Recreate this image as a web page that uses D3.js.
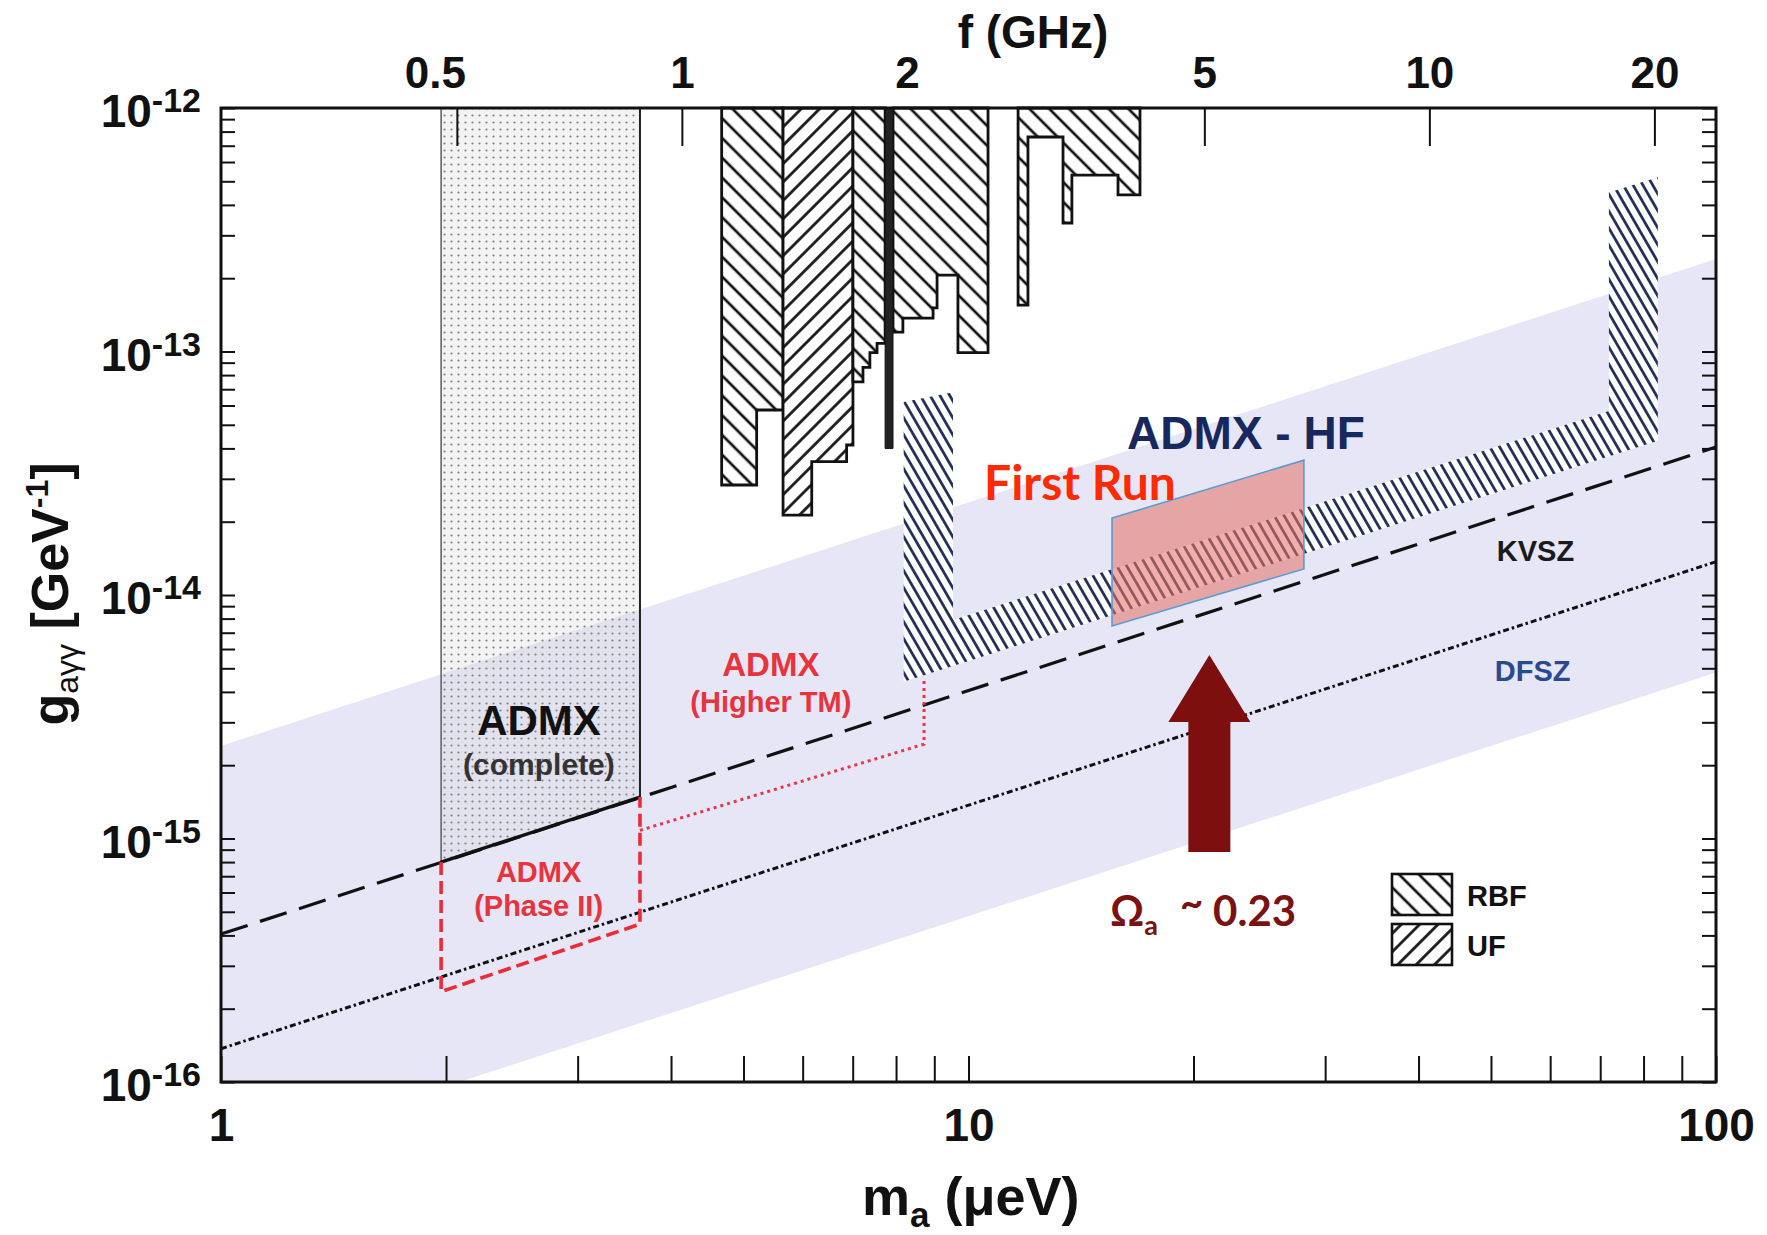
<!DOCTYPE html>
<html>
<head>
<meta charset="utf-8">
<script src="https://cdn.jsdelivr.net/npm/d3@7"></script>
<style>
  body { margin: 0; background: #fff; }
  text { font-family: "Liberation Sans", Arial, sans-serif; font-weight: bold; }
</style>
</head>
<body>
<script>
// axion-photon coupling vs axion mass, ADMX / ADMX-HF reach

// model lines, [m (ueV), g (1/GeV)]
var ksvzLine = [[1, 4.05e-16], [100, 4.05e-14]];
var dfszLine = [[1, 1.37e-16], [100, 1.37e-14]];
var bandUpper = [[1, 2.4e-15], [100, 2.4e-13]];
var bandLower = [[1, 4.8e-17], [100, 4.8e-15]];

// old exclusions, bins are [m_lo, m_hi, g_limit]
var rbfA = [[4.675, 5.207, 2.83e-14], [5.207, 5.648, 5.75e-14]];
var ufB = [[5.648, 6.17, 2.13e-14], [6.17, 6.87, 3.53e-14], [6.87, 7.005, 4.13e-14]];
var rbfC = [[7.005, 7.225, 7.5e-14], [7.225, 7.38, 8.6e-14], [7.38, 7.545, 9.9e-14], [7.545, 7.735, 1.08e-13]];
var darkBar = [[7.735, 7.925, 4.0e-14]];
var rbfD = [[7.925, 8.17, 1.2e-13], [8.17, 8.966, 1.37e-13], [8.966, 9.077, 1.51e-13], [9.077, 9.68, 2.06e-13], [9.68, 10.62, 9.9e-14]];
var rbfE = [[11.65, 12.01, 1.55e-13], [12.01, 13.38, 7.6e-13], [13.38, 13.75, 3.37e-13], [13.75, 15.85, 5.3e-13], [15.85, 16.96, 4.4e-13]];

// ADMX
var admxComplete = [[1.97, 8.0e-16], [3.635, 1.48e-15]];
var admxPhase2 = [[1.97, 8.0e-16], [1.97, 2.35e-16], [3.635, 4.45e-16], [3.635, 1.48e-15]];
var admxHigherTM = [[3.635, 1.08e-15], [8.72, 2.44e-15], [8.72, 4.5e-15]];
var admxHF = [[8.19, 6.2e-14], [9.535, 6.8e-14], [9.535, 7.9e-15], [71.9, 5.7e-14], [71.9, 4.5e-13],
              [83.6, 5.2e-13], [83.6, 4.3e-14], [8.19, 4.4e-15]];
var firstRun = [[15.56, 2.07e-14], [28.1, 3.58e-14], [28.1, 1.28e-14], [15.56, 7.46e-15]];
var arrowMass = 21.0;
var arrowG = [8.8e-16, 3.01e-15, 5.67e-15]; // tail, head base, tip

// ticks
var mLabels = [1, 10, 100];
var gLabels = [1e-16, 1e-15, 1e-14, 1e-13, 1e-12];
var fTicks = [0.5, 1, 2, 5, 10, 20];
var ueVperGHz = 4.1357;

var W = 1767, H = 1235;
var x = d3.scaleLog().domain([1, 100]).range([221, 1716]);
var y = d3.scaleLog().domain([1e-16, 1e-12]).range([1082, 108]);
var xf = d3.scaleLog().domain([1 / ueVperGHz, 100 / ueVperGHz]).range([221, 1716]);

var svg = d3.select("body").append("svg")
    .attr("width", W).attr("height", H);
svg.append("rect").attr("width", W).attr("height", H).attr("fill", "#fff");

var defs = svg.append("defs");
defs.append("clipPath").attr("id", "plot")
    .append("rect").attr("x", 221).attr("y", 108).attr("width", 1495).attr("height", 974);

function hatch(id, size, angle, width, color) {
    var p = defs.append("pattern").attr("id", id)
        .attr("patternUnits", "userSpaceOnUse")
        .attr("width", size).attr("height", size)
        .attr("patternTransform", "rotate(" + angle + ")");
    p.append("line").attr("x1", size / 2).attr("y1", 0).attr("x2", size / 2).attr("y2", size)
        .attr("stroke", color).attr("stroke-width", width);
}
hatch("rbf", 14, -45, 2.7, "#111");
hatch("uf", 13, 45, 2.7, "#111");
hatch("hf", 8.5, -30, 2.7, "#1c2a55");

var dots = defs.append("pattern").attr("id", "dots")
    .attr("patternUnits", "userSpaceOnUse").attr("width", 7).attr("height", 7);
dots.append("rect").attr("width", 7).attr("height", 7).attr("fill", "rgba(215,215,220,0.3)");
dots.append("circle").attr("cx", 3.5).attr("cy", 3.5).attr("r", 1.1).attr("fill", "#808080");

var line = d3.line()
    .x(function(d) { return x(d[0]); })
    .y(function(d) { return y(d[1]); });

function stepPoly(bins) {
    var top = y.domain()[1];
    var pts = [[bins[0][0], top]];
    bins.forEach(function(b) { pts.push([b[0], b[2]], [b[1], b[2]]); });
    pts.push([bins[bins.length - 1][1], top]);
    return pts;
}

// QCD axion band
svg.append("path")
    .attr("clip-path", "url(#plot)")
    .attr("d", line(bandUpper.concat(bandLower.slice().reverse())) + "Z")
    .attr("fill", "#e6e6f6");

// ADMX complete
var admxTop = y.domain()[1];
svg.append("path")
    .attr("d", line([[admxComplete[0][0], admxTop], [admxComplete[1][0], admxTop]].concat(admxComplete.slice().reverse())) + "Z")
    .attr("fill", "url(#dots)");
svg.append("path")
    .attr("d", line([admxComplete[0], [admxComplete[0][0], admxTop]]))
    .attr("fill", "none").attr("stroke", "#666").attr("stroke-width", 1.6);
svg.append("path")
    .attr("d", line([admxComplete[1], [admxComplete[1][0], admxTop]]))
    .attr("fill", "none").attr("stroke", "#222").attr("stroke-width", 2);

// axes ticks
var tickStyle = function(g) {
    g.select(".domain").remove();
    g.selectAll(".tick line").attr("stroke", "#111").attr("stroke-width", 2);
};
svg.append("g").attr("transform", "translate(0,1082)")
    .call(d3.axisBottom(x).tickValues(x.ticks()).tickSize(-26).tickPadding(26)
        .tickFormat(function(d) { return mLabels.indexOf(d) >= 0 ? d : ""; }))
    .call(tickStyle)
    .selectAll("text").attr("font-size", 46).attr("fill", "#111")
    .style("font-family", "'Liberation Sans', Arial, sans-serif").style("font-weight", "bold");

svg.append("g").attr("transform", "translate(221,0)")
    .call(d3.axisLeft(y).tickValues(y.ticks()).tickSize(-14).tickFormat(""))
    .call(tickStyle);
svg.append("g").attr("transform", "translate(1716,0)")
    .call(d3.axisRight(y).tickValues(y.ticks()).tickSize(-14).tickFormat(""))
    .call(tickStyle);

svg.append("g").attr("transform", "translate(0,108)")
    .call(d3.axisTop(xf).tickValues(fTicks).tickSize(-38).tickPadding(20)
        .tickFormat(function(d) { return d; }))
    .call(tickStyle)
    .selectAll("text").attr("font-size", 44).attr("fill", "#111")
    .attr("dx", function(d) { return d === 0.5 ? -22 : 0; })
    .style("font-family", "'Liberation Sans', Arial, sans-serif").style("font-weight", "bold");

// y tick labels 10^n
gLabels.forEach(function(v) {
    var t = svg.append("text")
        .attr("x", 201).attr("y", y(v) + 19)
        .attr("text-anchor", "end").attr("font-size", 46).attr("fill", "#111");
    t.append("tspan").text("10");
    t.append("tspan").attr("font-size", 34).attr("dy", -15).text(String(Math.round(Math.log10(v))));
});

// old RBF / UF exclusions
[[rbfA, "rbf"], [ufB, "uf"], [rbfC, "rbf"], [rbfD, "rbf"], [rbfE, "rbf"]].forEach(function(r) {
    var d = line(stepPoly(r[0])) + "Z";
    svg.append("path").attr("d", d).attr("fill", "#fff");
    svg.append("path").attr("d", d).attr("fill", "url(#" + r[1] + ")")
        .attr("stroke", "#111").attr("stroke-width", 2.8).attr("stroke-linejoin", "miter");
});
svg.append("path").attr("d", line(stepPoly(darkBar)) + "Z")
    .attr("fill", "#222").attr("stroke", "#111").attr("stroke-width", 1);

// ADMX-HF
svg.append("path").attr("d", line(admxHF) + "Z").attr("fill", "#fff");
svg.append("path").attr("d", line(admxHF) + "Z").attr("fill", "url(#hf)");

// first run
svg.append("path").attr("d", line(firstRun) + "Z")
    .attr("fill", "#e5756a").attr("fill-opacity", 0.58)
    .attr("stroke", "#5b9bd5").attr("stroke-width", 1.6);

// KSVZ, DFSZ
svg.append("path").attr("d", line(ksvzLine))
    .attr("fill", "none").attr("stroke", "#111").attr("stroke-width", 3.2)
    .attr("stroke-dasharray", "28,13");
svg.append("path").attr("d", line(dfszLine))
    .attr("fill", "none").attr("stroke", "#111").attr("stroke-width", 3)
    .attr("stroke-dasharray", "6,3,2.5,3");
svg.append("path").attr("d", line(admxComplete))
    .attr("fill", "none").attr("stroke", "#111").attr("stroke-width", 3.4);

// ADMX phase II / higher TM
svg.append("path").attr("d", line(admxPhase2))
    .attr("fill", "none").attr("stroke", "#ee2a35").attr("stroke-width", 3.6)
    .attr("stroke-dasharray", "13,6");
svg.append("path").attr("d", line(admxHigherTM))
    .attr("fill", "none").attr("stroke", "#ee3344").attr("stroke-width", 3)
    .attr("stroke-dasharray", "3,4");

// arrow
var ax = x(arrowMass), yTail = y(arrowG[0]), yBase = y(arrowG[1]), yTip = y(arrowG[2]);
svg.append("path")
    .attr("d", "M" + (ax - 21) + "," + yTail + "L" + (ax - 21) + "," + yBase + "L" + (ax - 41) + "," + yBase +
        "L" + ax + "," + yTip + "L" + (ax + 41) + "," + yBase + "L" + (ax + 21) + "," + yBase +
        "L" + (ax + 21) + "," + yTail + "Z")
    .attr("fill", "#7d0f0f");

// annotations
function label(m, g, str, size, color, anchor) {
    return svg.append("text").attr("x", x(m)).attr("y", y(g))
        .attr("font-size", size).attr("fill", color)
        .attr("text-anchor", anchor || "middle").text(str);
}
label(16.3, 3.98e-14, "ADMX - HF", 46, "#17285e", "start");
label(10.49, 2.45e-14, "First Run", 48, "#ff2a00", "start").style("font-family", "Lato, sans-serif");
label(50.9, 1.38e-14, "KVSZ", 29, "#1a1a1a", "start");
label(50.6, 4.43e-15, "DFSZ", 29, "#2a4a90", "start");
label(2.663, 2.66e-15, "ADMX", 42, "#111");
label(2.663, 1.82e-15, "(complete)", 30, "#333");
label(2.66, 6.63e-16, "ADMX", 29, "#e8333c");
label(2.66, 4.8e-16, "(Phase II)", 29, "#e8333c");
label(5.44, 4.65e-15, "ADMX", 33, "#e8333c");
label(5.44, 3.31e-15, "(Higher TM)", 29, "#e8333c");

var om = label(15.46, 4.37e-16, "", 42, "#7b1111", "start").style("font-family", "Lato, sans-serif");
om.append("tspan").text("\u03A9");
om.append("tspan").attr("font-size", 27).attr("dy", 9).text("a");
om.append("tspan").attr("font-size", 40).attr("dx", 22).attr("dy", -18).text("~");
om.append("tspan").attr("dx", 10).attr("dy", 9).text("0.23");

// legend
[["rbf", "RBF"], ["uf", "UF"]].forEach(function(l, i) {
    var top = 874 + i * 50;
    svg.append("rect").attr("x", 1392).attr("y", top).attr("width", 60).attr("height", 41).attr("fill", "#fff");
    svg.append("rect").attr("x", 1392).attr("y", top).attr("width", 60).attr("height", 41)
        .attr("fill", "url(#" + l[0] + ")").attr("stroke", "#111").attr("stroke-width", 2.6);
    svg.append("text").attr("x", 1467).attr("y", top + 32).attr("font-size", 29).attr("fill", "#111").text(l[1]);
});

// frame
svg.append("rect").attr("x", 221).attr("y", 108).attr("width", 1495).attr("height", 974)
    .attr("fill", "none").attr("stroke", "#111").attr("stroke-width", 3);

// axis titles
var xt = svg.append("text").attr("x", 862).attr("y", 1215).attr("font-size", 54).attr("fill", "#111");
xt.append("tspan").text("m");
xt.append("tspan").attr("font-size", 35).attr("dy", 12).text("a");
xt.append("tspan").attr("dy", -12).text(" (\u03BCeV)");

svg.append("text").attr("x", 1033).attr("y", 48).attr("text-anchor", "middle")
    .attr("font-size", 46).attr("fill", "#111").text("f (GHz)");

var yt = svg.append("text").attr("transform", "translate(68,594) rotate(-90)")
    .attr("text-anchor", "middle").attr("font-size", 52).attr("fill", "#111");
yt.append("tspan").text("g");
yt.append("tspan").attr("font-size", 32).attr("dy", 10).attr("font-weight", "normal").text("a\u03B3\u03B3");
yt.append("tspan").attr("dy", -10).text(" [GeV");
yt.append("tspan").attr("font-size", 32).attr("dy", -20).text("-1");
yt.append("tspan").attr("dy", 20).text("]");
</script>
</body>
</html>
